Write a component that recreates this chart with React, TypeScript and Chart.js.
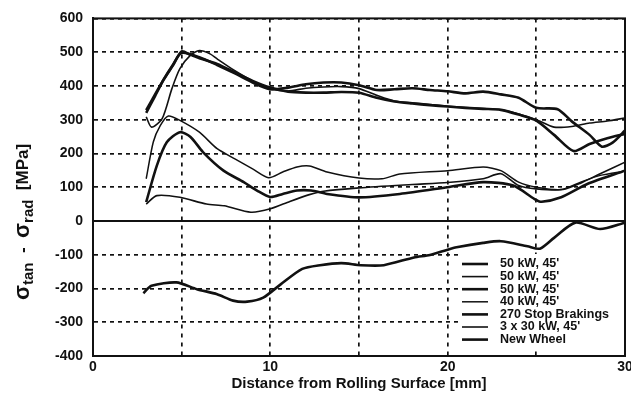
import React, { useEffect, useRef } from 'react';
import { Chart, registerables } from 'chart.js';

Chart.register(...registerables);

const seriesLabels = ["50 kW, 45'", "50 kW, 45'", "50 kW, 45'", "40 kW, 45'", "270 Stop Brakings", "3 x 30 kW, 45'", "New Wheel"];
const seriesWidths = [2.6, 1.6, 2.6, 1.5, 2.6, 1.6, 2.6];

const xTickLabels = [0, 10, 20, 30];

const s1X = [3, 3.5, 4, 4.5, 5, 5.5, 6, 7, 8, 9, 10, 11, 12, 13, 14, 15, 16, 17, 18, 19, 20, 21, 22, 23, 24, 25, 26, 27.1, 28, 29, 30];
const s1Y = [328, 375, 420, 460, 502, 492, 482, 465, 440, 415, 395, 383, 380, 380, 382, 380, 365, 354, 348, 343, 339, 335, 332, 329, 315, 297, 255, 207, 228, 245, 258];

const s2X = [3, 3.3, 3.9, 4.45, 4.9, 5.5, 6, 6.6, 7, 8, 9, 10, 11, 12, 13, 14, 15, 16, 17, 18, 19, 20, 21, 22, 23, 24, 25, 26, 27, 28, 29, 30];
const s2Y = [308, 278, 303, 392, 451, 491, 505, 495, 480, 445, 415, 392, 385, 393, 397, 398, 392, 372, 355, 350, 345, 340, 336, 333, 329, 317, 300, 278, 280, 290, 296, 305];

const s3X = [3, 3.5, 4, 4.5, 5, 6, 7, 8, 9, 10, 11, 12, 13, 14, 15, 16, 17, 18, 19, 20, 21, 22, 23, 24, 25, 26.2, 27, 28, 28.7, 29.3, 30];
const s3Y = [320, 370, 420, 462, 498, 485, 462, 437, 410, 390, 395, 405, 410, 410, 402, 388, 390, 393, 388, 384, 378, 383, 375, 365, 335, 331, 295, 255, 220, 232, 268];

const s4X = [3, 3.4, 3.8, 4.25, 4.9, 6, 7, 8, 9, 9.9, 10.7, 11.5, 12.2, 13.2, 15, 16.3, 17.3, 20, 22, 23, 24, 25, 26.4, 27.5, 28.6, 30];
const s4Y = [125, 234, 283, 311, 298, 263, 214, 184, 154, 128, 145, 160, 163, 145, 127, 125, 139, 149, 160, 149, 115, 100, 93, 115, 135, 148];

const s5X = [3, 3.6, 4.16, 4.9, 5.5, 6.2, 7.36, 8.5, 9.25, 10, 10.7, 11.5, 12.3, 13.2, 15, 17.3, 20, 22, 23.7, 24.9, 25.3, 26.4, 27.9, 30];
const s5Y = [56, 164, 233, 263, 249, 204, 149, 115, 90, 71, 80, 90, 90, 80, 70, 80, 100, 115, 105, 65, 57, 70, 110, 149];

const s6X = [3, 3.6, 4.9, 6.4, 7.4, 8.9, 10, 11.1, 12.2, 13, 15, 18, 20, 22, 23, 24, 25, 26.5, 27.5, 28.6, 30];
const s6Y = [50, 75, 70, 50, 45, 26, 36, 58, 78, 88, 98, 108, 114, 125, 140, 105, 95, 93, 112, 140, 174];

const s7X = [2.84, 3.3, 4.7, 5.86, 7, 7.9, 8.7, 9.6, 10.6, 11.8, 12.8, 14, 15.1, 16.4, 18.1, 19, 20, 20.5, 22, 23, 24.5, 25.2, 26, 27.2, 28.6, 30];
const s7Y = [-214, -192, -182, -202, -217, -236, -239, -227, -187, -142, -131, -125, -131, -131, -108, -101, -85, -78, -65, -60, -75, -82, -50, -5, -24, -5];

const allX = [s1X, s2X, s3X, s4X, s5X, s6X, s7X];
const allY = [s1Y, s2Y, s3Y, s4Y, s5Y, s6Y, s7Y];

const FONT = 'Liberation Sans';
const INK = '#111';

const overlayPlugin = {
  id: 'overlay',
  afterDatasetsDraw(chart: any) {
    const { ctx, chartArea, scales } = chart;
    ctx.save();
    ctx.strokeStyle = INK;
    // legend background (hides grid behind legend)
    ctx.fillStyle = '#fff';
    ctx.fillRect(458, 254, chartArea.right - 458 - 1, chartArea.bottom - 254 - 5);
    // zero line
    const y0 = scales.y.getPixelForValue(0);
    ctx.lineWidth = 2;
    ctx.setLineDash([]);
    ctx.beginPath();
    ctx.moveTo(chartArea.left, y0);
    ctx.lineTo(chartArea.right, y0);
    ctx.stroke();
    // frame
    ctx.lineWidth = 2;
    ctx.strokeRect(chartArea.left, chartArea.top, chartArea.right - chartArea.left, chartArea.bottom - chartArea.top);

    // legend
    const lx0 = 462, lx1 = 488, tx = 500;
    let ly = 264;
    ctx.font = `bold 12.5px "${FONT}"`;
    ctx.fillStyle = INK;
    ctx.textBaseline = 'middle';
    ctx.textAlign = 'left';
    chart.data.datasets.forEach((ds: any) => {
      ctx.lineWidth = ds.borderWidth;
      ctx.beginPath();
      ctx.moveTo(lx0, ly);
      ctx.lineTo(lx1, ly);
      ctx.stroke();
      ctx.fillText(ds.label, tx, ly);
      ly += 12.6;
    });

    // y title with subscripts
    const parts = [
      { t: '\u03C3', s: 22, dy: 0 },
      { t: 'tan', s: 15, dy: 6 },
      { t: '  -  ', s: 17, dy: 0 },
      { t: '\u03C3', s: 22, dy: 0 },
      { t: 'rad', s: 15, dy: 6 },
      { t: '  [MPa]', s: 17, dy: 0 },
    ];
    let total = 0;
    parts.forEach((p) => {
      ctx.font = `bold ${p.s}px "${FONT}"`;
      total += ctx.measureText(p.t).width;
    });
    ctx.translate(23, 222);
    ctx.rotate(-Math.PI / 2);
    let px = -total / 2;
    ctx.textBaseline = 'middle';
    parts.forEach((p) => {
      ctx.font = `bold ${p.s}px "${FONT}"`;
      ctx.fillText(p.t, px, p.dy);
      px += ctx.measureText(p.t).width;
    });
    ctx.restore();
  },
};

export default function App() {
  const ref = useRef<HTMLCanvasElement>(null);
  useEffect(() => {
    if (!ref.current) return;
    const datasets = allX.map((xs, i) => ({
      label: seriesLabels[i],
      data: xs.map((x, j) => ({ x, y: allY[i][j] })),
      borderColor: INK,
      borderWidth: seriesWidths[i],
      pointRadius: 0,
      tension: 0.25,
      fill: false,
    }));
    const chart = new Chart(ref.current, {
      type: 'line',
      data: { datasets },
      plugins: [overlayPlugin],
      options: {
        responsive: false,
        animation: false,
        layout: { padding: { left: 0, right: 6, top: 18, bottom: 0 } },
        plugins: { legend: { display: false }, tooltip: { enabled: false } },
        scales: {
          x: {
            type: 'linear',
            min: 0,
            max: 30,
            afterFit: (s: any) => { s.height = 44; s.paddingLeft = 0; s.paddingRight = 0; },
            ticks: {
              stepSize: 5,
              autoSkip: false,
              maxRotation: 0,
              padding: 3,
              color: INK,
              font: { family: FONT, weight: 'bold', size: 14 },
              callback: (v: any) => (xTickLabels.includes(Number(v)) ? String(v) : ''),
            },
            grid: { color: INK, lineWidth: 1.7, drawTicks: false },
            border: { display: true, color: INK, width: 2, dash: [4, 5] },
            title: {
              display: true,
              text: 'Distance from Rolling Surface [mm]',
              color: INK,
              font: { family: FONT, weight: 'bold', size: 15 },
              padding: { top: 0, bottom: 7 },
            },
          },
          y: {
            type: 'linear',
            min: -400,
            max: 600,
            afterFit: (s: any) => { s.width = 93; },
            ticks: {
              stepSize: 100,
              padding: 10,
              color: INK,
              font: { family: FONT, weight: 'bold', size: 14 },
            },
            grid: { color: INK, lineWidth: 1.7, drawTicks: false },
            border: { display: true, color: INK, width: 2, dash: [4, 4] },
          },
        },
      },
    });
    return () => chart.destroy();
  }, []);
  return (
    <div style={{ position: 'fixed', left: 0, top: 0, width: 631, height: 400, background: '#fff' }}>
      <canvas ref={ref} width={631} height={400} />
    </div>
  );
}
